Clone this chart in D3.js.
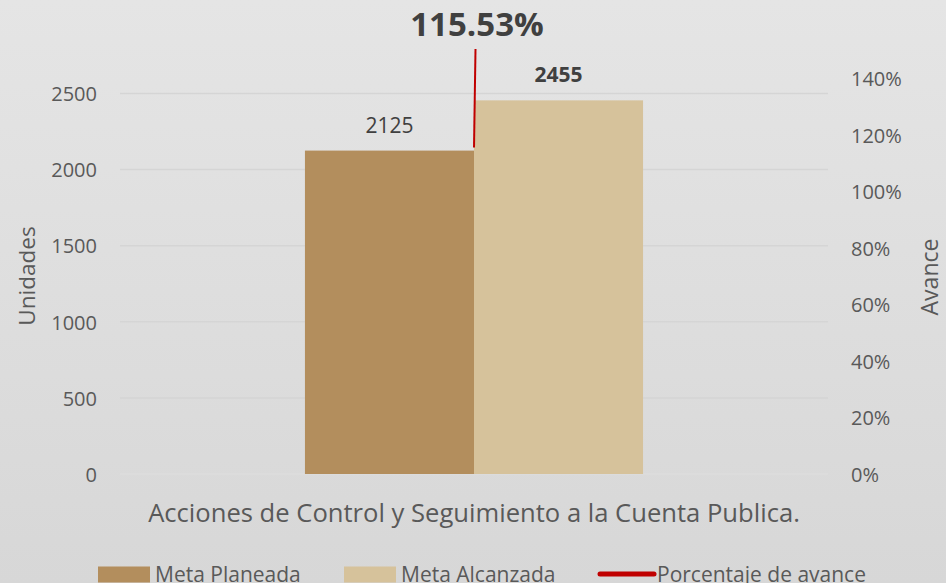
<!DOCTYPE html>
<html><head><meta charset="utf-8">
<script src="https://cdn.jsdelivr.net/npm/d3@7"></script>
<style>body{margin:0;}svg{display:block;font-family:"Open Sans",sans-serif;}</style>
</head><body><svg id="c" width="946" height="583"></svg>
<script>
const categories = ["Acciones de Control y Seguimiento a la Cuenta Publica."];
const seriesNames = ["Meta Planeada", "Meta Alcanzada", "Porcentaje de avance"];
const metaPlaneada = [2125];
const metaAlcanzada = [2455];
const porcentaje = [1.1553];
const leftTicks = [0, 500, 1000, 1500, 2000, 2500];
const rightTicks = [0, 0.2, 0.4, 0.6, 0.8, 1.0, 1.2, 1.4];

const W = 946, H = 583;
const FF = "'Open Sans', sans-serif";
const svg = d3.select("#c");
const defs = svg.append("defs");
const g = defs.append("linearGradient").attr("id","bg").attr("x1",0).attr("y1",0).attr("x2",0).attr("y2",1);
g.append("stop").attr("offset","0%").attr("stop-color","#e5e5e5");
g.append("stop").attr("offset","100%").attr("stop-color","#d7d7d7");
svg.append("rect").attr("width",W).attr("height",H).attr("fill","url(#bg)");

const plotL = 120, plotR = 828, yTop = 78.3, yBot = 474;
const y = d3.scaleLinear().domain([0, 2600]).range([yBot, yTop]);
const y2 = d3.scaleLinear().domain([0, 1.4]).range([yBot, yTop]);
const x0 = d3.scaleBand().domain(categories).range([plotL, plotR]).paddingInner(0).paddingOuter(0.547);
const x1 = d3.scaleBand().domain(["p","a"]).range([0, x0.bandwidth()]);
const txt = "#595959";

// gridlines
svg.append("g").selectAll("line").data(leftTicks.filter(d=>d>0)).join("line")
  .attr("x1",plotL).attr("x2",plotR).attr("y1",d=>y(d)).attr("y2",d=>y(d))
  .attr("stroke","#d5d5d5").attr("stroke-width",1.5);
svg.append("line").attr("x1",plotL).attr("x2",plotR).attr("y1",y(0)).attr("y2",y(0))
  .attr("stroke","#dcdcdc").attr("stroke-width",1.5);

// axes
const la = svg.append("g").attr("transform",`translate(97,0)`)
  .call(d3.axisLeft(y).tickValues(leftTicks).tickFormat(d3.format("d")).tickSize(0).tickPadding(0));
la.attr("font-family", FF);
la.select(".domain").remove();
la.selectAll("text").attr("fill",txt).attr("font-size",20).attr("dy","0.36em");
const ra = svg.append("g").attr("transform",`translate(851,0)`)
  .call(d3.axisRight(y2).tickValues(rightTicks).tickFormat(d3.format(".0%")).tickSize(0).tickPadding(0));
ra.attr("font-family", FF);
ra.select(".domain").remove();
ra.selectAll("text").attr("fill",txt).attr("font-size",20).attr("dy","0.36em");

// bars
const cat = categories[0];
const bars = [
  {k:"p", v: metaPlaneada[0], c:"#b38e5d"},
  {k:"a", v: metaAlcanzada[0], c:"#d6c29b"}
];
svg.append("g").selectAll("rect").data(bars).join("rect")
  .attr("x",d=>x0(cat)+x1(d.k)).attr("width",x1.bandwidth())
  .attr("y",d=>y(d.v)).attr("height",d=>y(0)-y(d.v)).attr("fill",d=>d.c);

// data labels
svg.append("text").attr("x",x0(cat)+x1("p")+x1.bandwidth()/2).attr("y",y(metaPlaneada[0])-18)
  .attr("text-anchor","middle").attr("fill","#404040").attr("font-size",21).text(metaPlaneada[0]);
svg.append("text").attr("x",x0(cat)+x1("a")+x1.bandwidth()/2).attr("y",y(metaAlcanzada[0])-18)
  .attr("text-anchor","middle").attr("fill","#404040").attr("font-size",21).attr("font-weight","bold").text(metaAlcanzada[0]);

// percentage line
const lx = x0(cat) + x0.bandwidth()/2;
svg.append("line").attr("x1",lx).attr("x2",lx+1.5).attr("y1",y2(porcentaje[0])).attr("y2",y2(1.504))
  .attr("stroke","#c00000").attr("stroke-width",2);
svg.append("text").attr("x",lx+3).attr("y",36).attr("text-anchor","middle")
  .attr("fill","#404040").attr("font-size",33).attr("font-weight","bold")
  .text(d3.format(".2%")(porcentaje[0]));

// axis titles
svg.append("text").attr("transform","translate(35,276) rotate(-90)").attr("text-anchor","middle")
  .attr("fill",txt).attr("font-size",22.5).text("Unidades");
svg.append("text").attr("transform","translate(938,277) rotate(-90)").attr("text-anchor","middle")
  .attr("fill",txt).attr("font-size",23).text("Avance");
svg.append("text").attr("x",474).attr("y",522).attr("text-anchor","middle")
  .attr("fill",txt).attr("font-size",25.6).text(categories[0]);

// legend
const leg = [
  {n:seriesNames[0], x:98, type:"rect", c:"#b38e5d"},
  {n:seriesNames[1], x:344, type:"rect", c:"#d6c29b"},
  {n:seriesNames[2], x:598, type:"line", c:"#c00000"}
];
const lg = svg.append("g").selectAll("g").data(leg).join("g").attr("transform",d=>`translate(${d.x},574)`);
lg.filter(d=>d.type==="rect").append("rect").attr("x",0).attr("y",-7.5).attr("width",52).attr("height",16).attr("fill",d=>d.c);
lg.filter(d=>d.type==="line").append("line").attr("x1",2).attr("x2",56).attr("y1",0).attr("y2",0)
  .attr("stroke",d=>d.c).attr("stroke-width",5).attr("stroke-linecap","round");
lg.append("text").attr("x",d=>d.type==="rect"?57:59).attr("y",0).attr("dy","0.36em")
  .attr("fill",txt).attr("font-size",21).text(d=>d.n);
</script></body></html>
